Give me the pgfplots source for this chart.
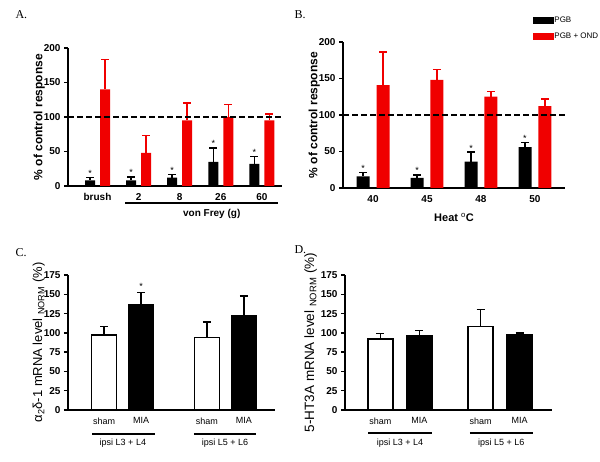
\documentclass[border=0pt]{standalone}
\usepackage{pgfplots}
\pgfplotsset{compat=1.18}
\usepackage{fontspec}
\setmainfont{Liberation Sans}
\newfontfamily\panelfont{Liberation Serif}
\definecolor{myred}{RGB}{240,0,0}
\pgfplotsset{
  basestyle/.style={
    scale only axis, anchor=south west, clip=false,
    axis lines=left, axis line style={-, line width=1.6pt},
    ymin=0, x tick style={draw=none},
    y tick style={line width=1.4pt, black}, major tick length=4pt, tick align=outside,
    /pgf/number format/assume math mode=true,
    xtick pos=bottom, ytick pos=left,
  },
  ebblack/.style={error bars/.cd, y dir=plus, y explicit,
     error bar style={line width=1.5pt, black},
     error mark options={rotate=90, mark size=4pt, line width=1.5pt, black}},
  ebred/.style={error bars/.cd, y dir=plus, y explicit,
     error bar style={line width=1.5pt, myred},
     error mark options={rotate=90, mark size=4pt, line width=1.5pt, myred}},
  stars/.style={draw=none, mark=none, forget plot, nodes near coords={*},
     every node near coord/.style={anchor=south, inner sep=1pt, font=\fontsize{9}{10}\selectfont}},
}
\begin{document}
\begin{tikzpicture}
\useasboundingbox (0pt,0pt) rectangle (600pt,461pt);

% Panel labels
\node[anchor=west, font=\panelfont\fontsize{12}{14}\selectfont] at (12pt,446pt) {A.};
\node[anchor=west, font=\panelfont\fontsize{12}{14}\selectfont] at (291pt,446pt) {B.};
\node[anchor=west, font=\panelfont\fontsize{12}{14}\selectfont] at (12pt,208pt) {C.};
\node[anchor=west, font=\panelfont\fontsize{12}{14}\selectfont] at (291pt,211pt) {D.};

% ---------------- Panel A ----------------
\begin{axis}[basestyle, at={(68pt,275pt)}, width=214pt, height=138pt,
  ymax=200, ytick={0,50,100,150,200},
  xmin=-0.718, xmax=4.49, xtick={0,1,2,3,4}, xticklabels={brush,2,8,26,60},
  ticklabel style={font=\bfseries\fontsize{10}{12}\selectfont},
  ylabel={\% of control response}, ylabel style={font=\bfseries\fontsize{12}{14}\selectfont, yshift=-8pt},
]
\addplot[ybar, bar width=10pt, bar shift=0pt, fill=black, draw=none, ebblack]
  coordinates {(-0.1825,8) +- (0,4) (0.8175,8) +- (0,5) (1.8175,12) +- (0,5) (2.8175,35) +- (0,20) (3.8175,32) +- (0,11)};
\addplot[ybar, bar width=10pt, bar shift=0pt, fill=myred, draw=none, ebred]
  coordinates {(0.1825,140) +- (0,43) (1.1825,48) +- (0,25) (2.1825,95) +- (0,25) (3.1825,100) +- (0,18) (4.1825,95) +- (0,9)};
\addplot[stars] coordinates {(-0.1825,12) (0.8175,13) (1.8175,17) (2.8175,55) (3.8175,43)};
\addplot[black, line width=2pt, dash pattern=on 6pt off 3pt, forget plot] coordinates {(-0.718,100) (4.49,100)};
\draw[line width=1.2pt] ([yshift=-17pt]axis cs:0.67,0) -- ([yshift=-17pt]axis cs:4.39,0);
\node[font=\bfseries\fontsize{10}{12}\selectfont] at ([yshift=-28pt]axis cs:2.78,0) {von Frey (g)};
\end{axis}

% ---------------- Panel B ----------------
\begin{axis}[basestyle, at={(343pt,273pt)}, width=222pt, height=146pt,
  ymax=200, ytick={0,50,100,150,200},
  xmin=-0.556, xmax=3.556, xtick={0,1,2,3}, xticklabels={40,45,48,50},
  ticklabel style={font=\bfseries\fontsize{10}{12}\selectfont},
  ylabel={\% of control response}, ylabel style={font=\bfseries\fontsize{12}{14}\selectfont, yshift=-8pt},
  xlabel={Heat $^{\mathrm{o}}$C}, xlabel style={font=\bfseries\fontsize{11}{13}\selectfont, yshift=-4pt},
  legend style={at={(0.855,1.18)}, anchor=north west, draw=none, fill=none,
     font=\fontsize{8}{9}\selectfont, row sep=7pt, inner sep=0pt,
     nodes={inner sep=1pt}},
  legend cell align=left,
]
\addlegendimage{legend image code/.code={\fill[black] (0pt,-3pt) rectangle (20pt,3pt);}}
\addlegendentry{PGB}
\addlegendimage{legend image code/.code={\fill[myred] (0pt,-3pt) rectangle (20pt,3pt);}}
\addlegendentry{PGB + OND}
\addplot[forget plot, ybar, bar width=13pt, bar shift=0pt, fill=black, draw=none, ebblack]
  coordinates {(-0.185,16) +- (0,5) (0.815,14) +- (0,4) (1.815,36) +- (0,13) (2.815,56) +- (0,6)};
\addplot[forget plot, ybar, bar width=13pt, bar shift=0pt, fill=myred, draw=none, ebred]
  coordinates {(0.185,141) +- (0,45) (1.185,148) +- (0,14) (2.185,125) +- (0,7) (3.185,112) +- (0,10)};
\addplot[stars] coordinates {(-0.185,21) (0.815,18) (1.815,49) (2.815,62)};
\addplot[black, line width=2pt, dash pattern=on 6pt off 3pt, forget plot] coordinates {(-0.556,100) (3.556,100)};
\end{axis}

% ---------------- Panel C ----------------
\begin{axis}[basestyle, at={(68pt,51pt)}, width=207pt, height=135pt,
  axis line style={-, line width=1.5pt},
  ymax=175, ytick={0,25,50,75,100,125,150,175},
  xmin=-0.973, xmax=4.62, xtick={0,1,2.78,3.78}, xticklabels={sham,MIA,sham,MIA},
  yticklabel style={font=\bfseries\fontsize{10}{11}\selectfont},
  xticklabel style={font=\fontsize{9}{11}\selectfont},
  ylabel={α\textsubscript{2}δ-1 mRNA level \textsubscript{NORM} (\%)},
  ylabel style={font=\fontsize{13}{15}\selectfont, yshift=-8pt},
]
\addplot[ybar, bar width=25pt, bar shift=0pt, fill=white, draw=black, line width=1.5pt, ebblack]
  coordinates {(0,97) +- (0,11) (2.78,94) +- (0,20)};
\addplot[ybar, bar width=25pt, bar shift=0pt, fill=black, draw=black, line width=1.5pt, ebblack]
  coordinates {(1,136) +- (0,16) (3.78,122) +- (0,26)};
\addplot[stars] coordinates {(1,155)};
\draw[line width=1.2pt] ([yshift=-24pt]axis cs:-0.32,0) -- ([yshift=-24pt]axis cs:1.38,0);
\draw[line width=1.2pt] ([yshift=-24pt]axis cs:2.43,0) -- ([yshift=-24pt]axis cs:4.11,0);
\node[font=\fontsize{9}{11}\selectfont] at ([yshift=-33pt]axis cs:0.51,0) {ipsi L3 + L4};
\node[font=\fontsize{9}{11}\selectfont] at ([yshift=-33pt]axis cs:3.27,0) {ipsi L5 + L6};
\end{axis}

% ---------------- Panel D ----------------
\begin{axis}[basestyle, at={(345pt,51pt)}, width=207pt, height=135pt,
  axis line style={-, line width=1.5pt},
  ymax=175, ytick={0,25,50,75,100,125,150,175},
  xmin=-0.91, xmax=4.40, xtick={0,1,2.57,3.57}, xticklabels={sham,MIA,sham,MIA},
  yticklabel style={font=\bfseries\fontsize{10}{11}\selectfont},
  xticklabel style={font=\fontsize{9}{11}\selectfont},
  ylabel={5-HT3A mRNA level \textsubscript{NORM} (\%)},
  ylabel style={font=\fontsize{13.5}{15}\selectfont, yshift=-3pt},
]
\addplot[ybar, bar width=25pt, bar shift=0pt, fill=white, draw=black, line width=1.5pt, ebblack]
  coordinates {(0,92) +- (0,7) (2.57,108) +- (0,22)};
\addplot[ybar, bar width=25pt, bar shift=0pt, fill=black, draw=black, line width=1.5pt, ebblack]
  coordinates {(1,96) +- (0,7) (3.57,97) +- (0,3)};
\draw[line width=1.2pt] ([yshift=-23pt]axis cs:-0.32,0) -- ([yshift=-23pt]axis cs:1.32,0);
\draw[line width=1.2pt] ([yshift=-23pt]axis cs:2.29,0) -- ([yshift=-23pt]axis cs:3.91,0);
\node[font=\fontsize{9}{11}\selectfont] at ([yshift=-33pt]axis cs:0.5,0) {ipsi L3 + L4};
\node[font=\fontsize{9}{11}\selectfont] at ([yshift=-33pt]axis cs:3.1,0) {ipsi L5 + L6};
\end{axis}
\end{tikzpicture}
\end{document}
